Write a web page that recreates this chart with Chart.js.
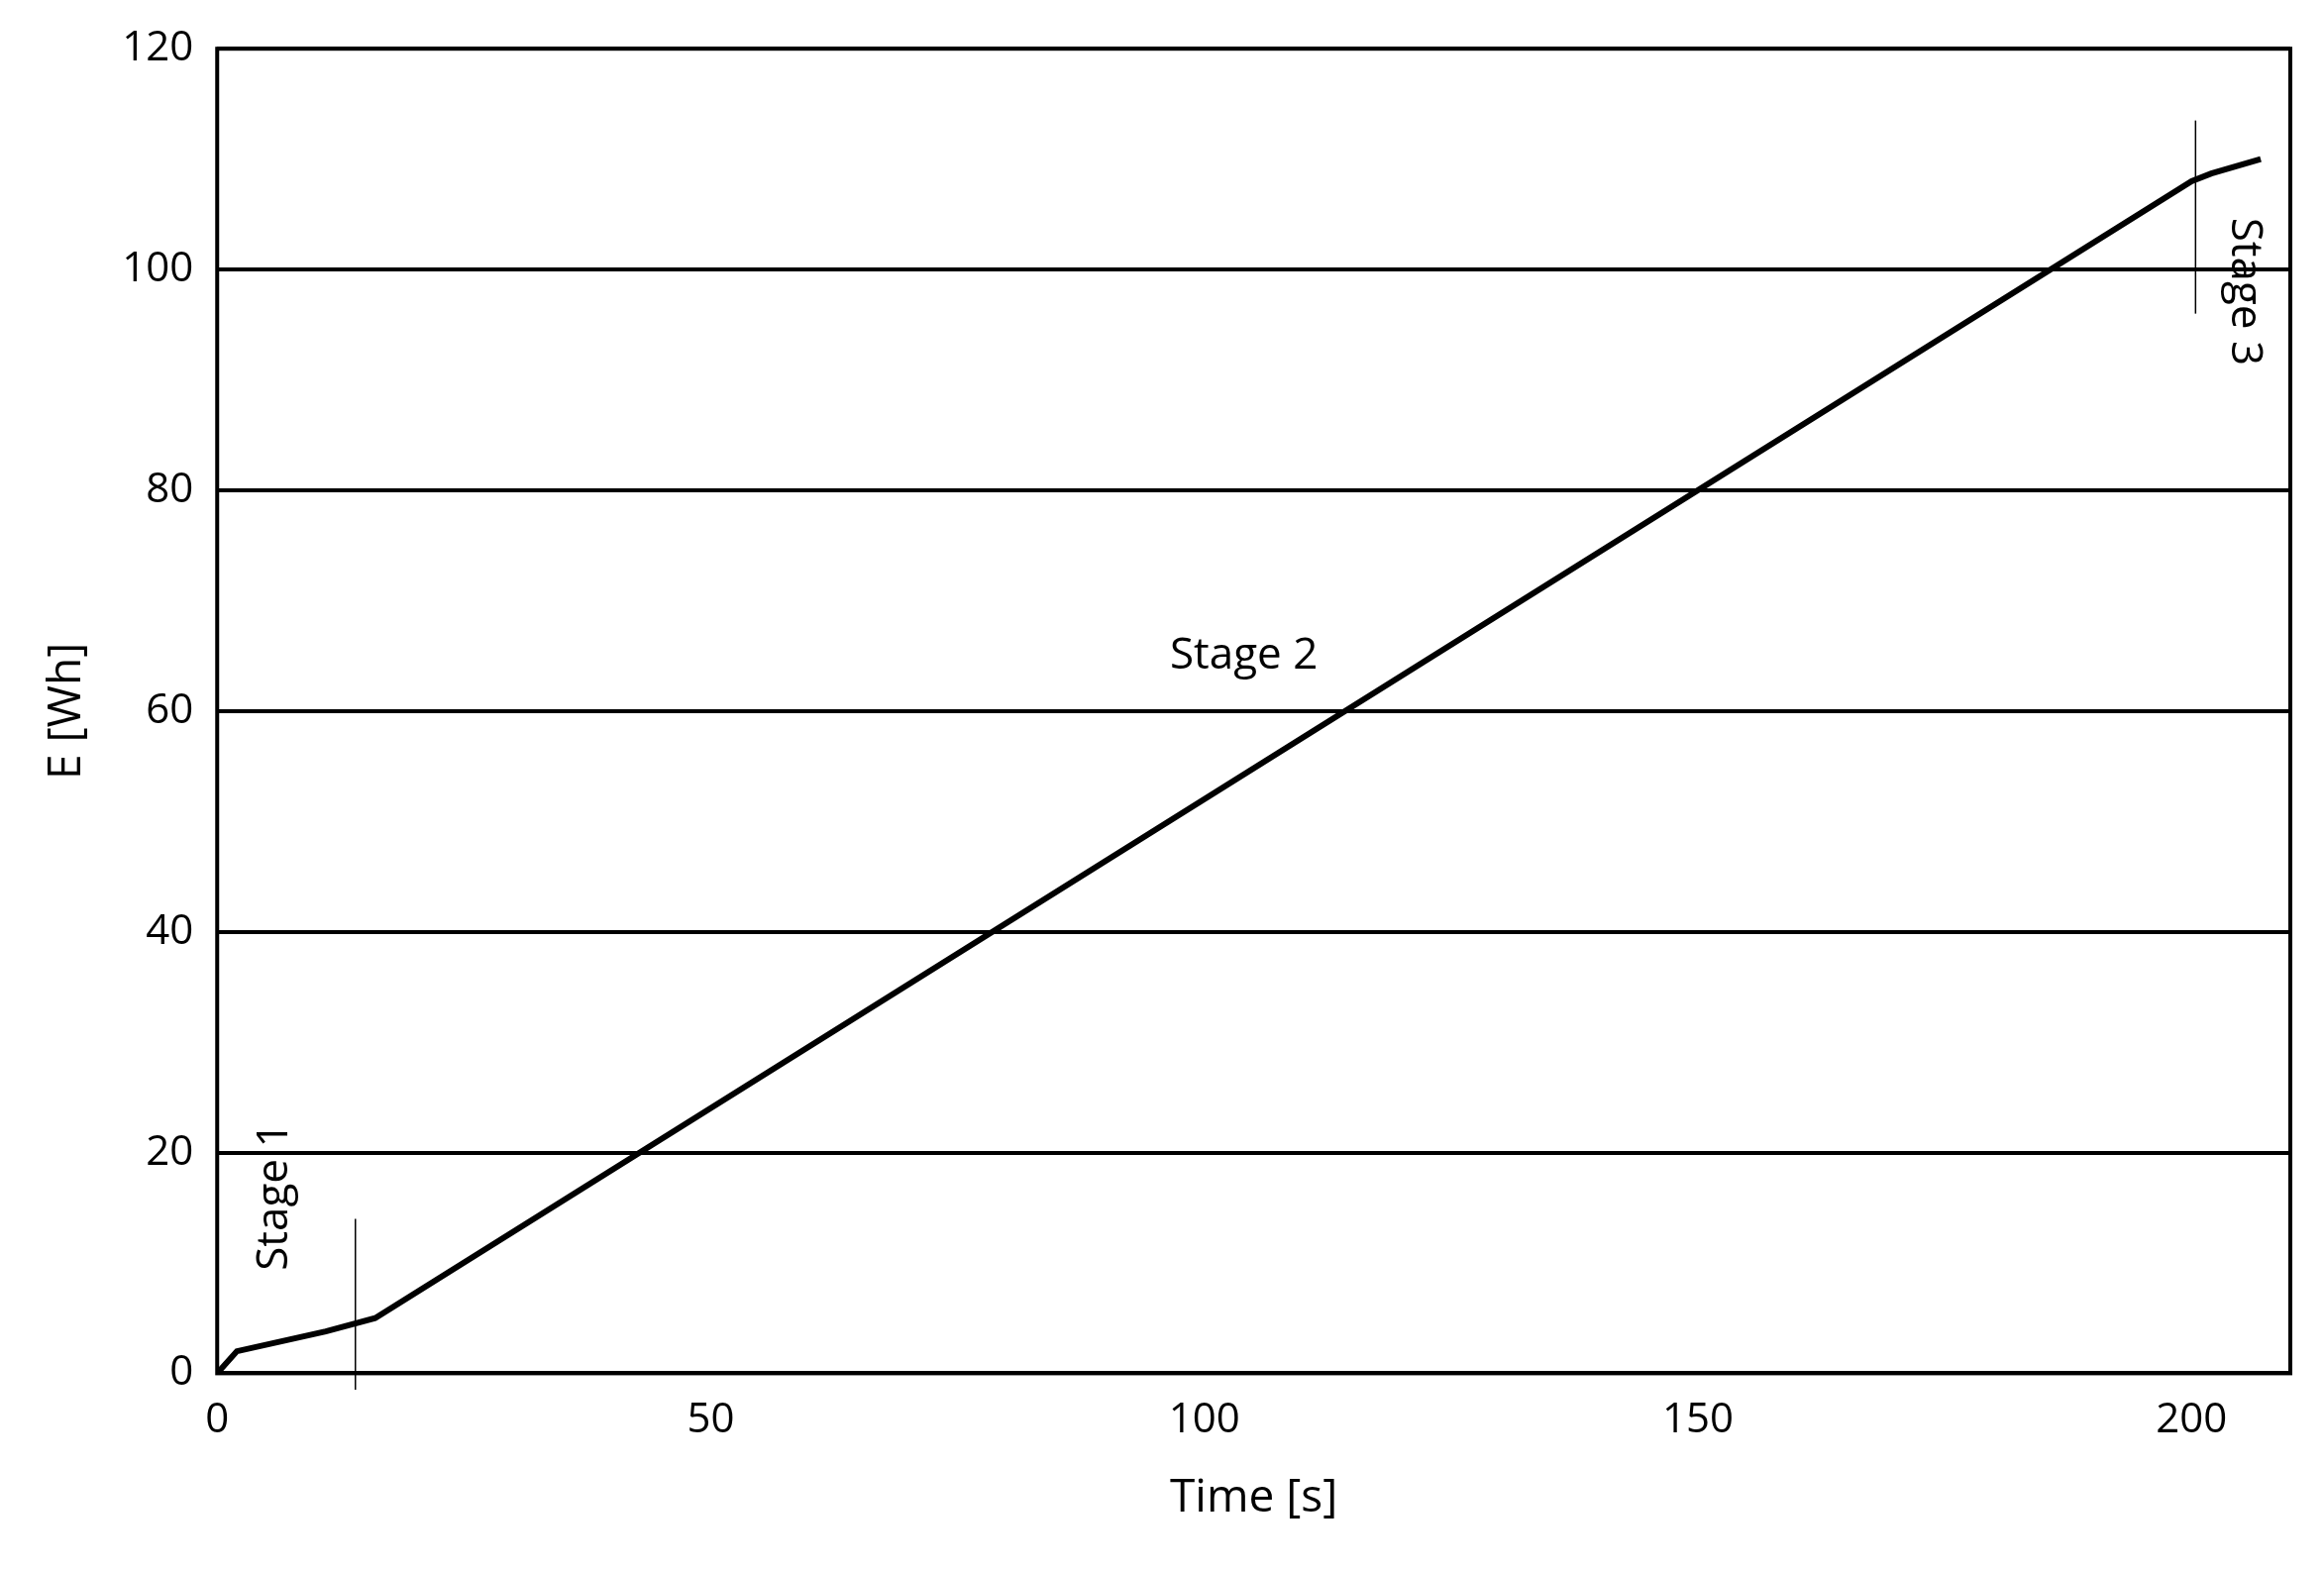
<!DOCTYPE html>
<html><head><meta charset="utf-8">
<script src="https://cdn.jsdelivr.net/npm/chart.js"></script>
<style>html,body{margin:0;padding:0;background:#fff}#w{width:2346px;height:1586px}</style>
</head><body><div id="w"><canvas id="c"></canvas></div>
<script>
const timeS = [0, 2, 11, 16, 200, 202, 207];
const energyWh = [0, 2, 3.8, 5, 108, 108.7, 110];
const xTicks = [0, 50, 100, 150, 200];
const stageMarkers = [{t:14, y0:-1.5, y1:14}, {t:200.4, y0:96, y1:113.5}];
const stageLabels = [
  {text:'Stage 1', t:5.8, e:16, rot:-Math.PI/2},
  {text:'Stage 2', t:104, e:65, rot:0},
  {text:'Stage 3', t:205.3, e:98, rot:Math.PI/2}
];
const FONT = '"Open Sans", sans-serif';
const deco = {
  id:'deco',
  afterDatasetsDraw(ch){
    const {ctx, scales:{x,y}, chartArea:a} = ch;
    ctx.save();
    ctx.strokeStyle='#000'; ctx.lineWidth=4;
    ctx.strokeRect(a.left, a.top, a.right-a.left, a.bottom-a.top);
    ctx.lineWidth=1.5;
    stageMarkers.forEach(m=>{
      ctx.beginPath();
      ctx.moveTo(x.getPixelForValue(m.t), y.getPixelForValue(m.y0));
      ctx.lineTo(x.getPixelForValue(m.t), y.getPixelForValue(m.y1));
      ctx.stroke();
    });
    ctx.fillStyle='#000'; ctx.font='44px '+FONT;
    ctx.textAlign='center'; ctx.textBaseline='middle';
    stageLabels.forEach(l=>{
      ctx.save();
      ctx.translate(x.getPixelForValue(l.t), y.getPixelForValue(l.e));
      ctx.rotate(l.rot);
      ctx.fillText(l.text,0,0);
      ctx.restore();
    });
    ctx.restore();
  }
};
new Chart(document.getElementById('c'), {
  type:'line',
  data:{datasets:[{data:timeS.map((t,i)=>({x:t,y:energyWh[i]})), borderColor:'#000', borderWidth:6, pointRadius:0, tension:0}]},
  options:{
    responsive:true, maintainAspectRatio:false, animation:false,
    layout:{padding:{left:36,right:34,top:45,bottom:42}},
    plugins:{legend:{display:false}, tooltip:{enabled:false}},
    scales:{
      x:{type:'linear', min:0, max:210,
        afterBuildTicks:s=>{s.ticks = xTicks.map(v=>({value:v}));},
        ticks:{color:'#000', font:{size:42, family:FONT}, padding:22, autoSkip:false, maxRotation:0},
        grid:{display:false, drawTicks:false}, border:{display:false},
        title:{display:true, text:'Time [s]', color:'#000', font:{size:46, family:FONT}}},
      y:{min:0, max:120,
        ticks:{stepSize:20, color:'#000', font:{size:42, family:FONT}, padding:24},
        grid:{color:'#000', lineWidth:4, drawTicks:false}, border:{display:false},
        title:{display:true, text:'E [Wh]', color:'#000', font:{size:46, family:FONT}}}
    }
  },
  plugins:[deco]
});
</script></body></html>
